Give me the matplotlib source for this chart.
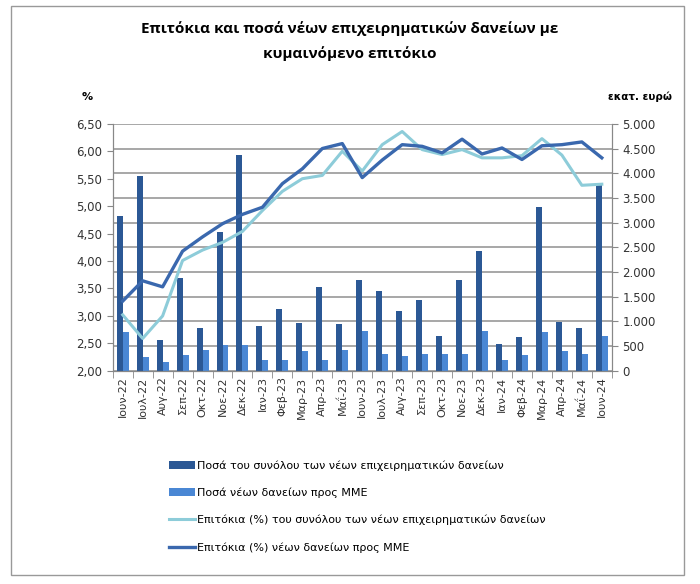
import numpy as np
import matplotlib.pyplot as plt
from matplotlib.patches import Rectangle
from matplotlib.ticker import FuncFormatter, MultipleLocator

# δεδομένα (εκτίμηση από το διάγραμμα)
months = ['Ιουν-22', 'Ιουλ-22', 'Αυγ-22', 'Σεπ-22', 'Οκτ-22', 'Νοε-22', 'Δεκ-22',
          'Ιαν-23', 'Φεβ-23', 'Μαρ-23', 'Απρ-23', 'Μαΐ-23', 'Ιουν-23', 'Ιουλ-23',
          'Αυγ-23', 'Σεπ-23', 'Οκτ-23', 'Νοε-23', 'Δεκ-23', 'Ιαν-24', 'Φεβ-24',
          'Μαρ-24', 'Απρ-24', 'Μαΐ-24', 'Ιουν-24']
amount_total = [3133, 3939, 619, 1875, 867, 2803, 4369, 907, 1257, 968, 1694, 948, 1835,
                1626, 1203, 1425, 706, 1835, 2433, 538, 685, 3326, 988, 874, 3756]
amount_sme = [778, 282, 181, 329, 417, 518, 518, 229, 229, 397, 229, 430, 806,
              349, 296, 336, 349, 349, 806, 228, 316, 786, 396, 336, 706]
rate_total = [3.02, 2.59, 3.00, 4.01, 4.20, 4.34, 4.54, 4.92, 5.27, 5.50, 5.56, 6.00, 5.64,
              6.12, 6.36, 6.03, 5.94, 6.03, 5.88, 5.88, 5.92, 6.23, 5.93, 5.38, 5.40]
rate_sme = [3.27, 3.64, 3.53, 4.18, 4.44, 4.68, 4.85, 4.98, 5.41, 5.68, 6.05, 6.14, 5.52,
            5.84, 6.12, 6.09, 5.97, 6.22, 5.95, 6.06, 5.85, 6.10, 6.12, 6.17, 5.88]
legend_labels = ['Ποσά του συνόλου των νέων επιχειρηματικών δανείων',
                 'Ποσά νέων δανείων προς ΜΜΕ',
                 'Επιτόκια (%) του συνόλου των νέων επιχειρηματικών δανείων',
                 'Επιτόκια (%) νέων δανείων προς ΜΜΕ']

plt.rcParams['font.family'] = ['DejaVu Sans']

C_DARK_BAR = '#2B5895'
C_LIGHT_BAR = '#4A87D4'
C_LIGHT_LINE = '#8DCCD9'
C_DARK_LINE = '#3A68AE'
C_GRID = '#A0A0A0'

fig = plt.figure(figsize=(7.0, 5.84), dpi=100)
ax1 = fig.add_axes([0.161, 0.365, 0.713, 0.423])
ax2 = ax1.twinx()

x = np.arange(len(months))

# ράβδοι στον δεξί άξονα
ax2.set_axisbelow(True)
ax2.yaxis.grid(True, color=C_GRID, linewidth=1.3)
b1 = ax2.bar(x - 0.15, amount_total, width=0.3, color=C_DARK_BAR, zorder=2)
b2 = ax2.bar(x + 0.15, amount_sme, width=0.3, color=C_LIGHT_BAR, zorder=2)
ax2.set_ylim(0, 5000)
ax2.yaxis.set_major_locator(MultipleLocator(500))
ax2.yaxis.set_major_formatter(FuncFormatter(lambda v, p: f'{int(v):,}'.replace(',', '.')))

# γραμμές στον αριστερό άξονα
ax1.set_zorder(ax2.get_zorder() + 1)
ax1.patch.set_visible(False)
l1, = ax1.plot(x, rate_total, color=C_LIGHT_LINE, linewidth=2.2)
l2, = ax1.plot(x, rate_sme, color=C_DARK_LINE, linewidth=2.4)
ax1.set_ylim(2.0, 6.5)
ax1.yaxis.set_major_locator(MultipleLocator(0.5))
ax1.yaxis.set_major_formatter(FuncFormatter(lambda v, p: f'{v:.2f}'.replace('.', ',')))
ax1.set_xlim(-0.5, len(months) - 0.5)
ax1.set_xticks(x)
ax1.set_xticklabels(months, rotation=90, fontsize=8, color='#333333')
ax1.set_xticks(np.arange(-0.5, len(months)), minor=True)
ax1.tick_params(axis='x', which='major', length=0, pad=4)
ax1.tick_params(axis='x', which='minor', length=5, color='#888888')

for ax in (ax1, ax2):
    ax.spines['top'].set_visible(False)
    for s in ('left', 'right', 'bottom'):
        ax.spines[s].set_color('#888888')
ax1.tick_params(axis='y', labelsize=8.5, length=4, color='#888888', labelcolor='#333333')
ax2.tick_params(axis='y', labelsize=8.5, length=4, color='#888888', labelcolor='#333333')

# τίτλοι και ετικέτες
fig.text(0.5, 0.963, 'Επιτόκια και ποσά νέων επιχειρηματικών δανείων με\nκυμαινόμενο επιτόκιο',
         ha='center', va='top', fontsize=11, fontweight='bold', family='Open Sans',
         linespacing=1.8)
fig.text(0.117, 0.834, '%', ha='left', va='center', fontsize=8, fontweight='bold')
fig.text(0.96, 0.834, 'εκατ. ευρώ', ha='right', va='center', fontsize=7.5, fontweight='bold')

fig.legend([b1, b2, l1, l2], legend_labels,
           loc='upper left', bbox_to_anchor=(0.235, 0.219), frameon=False,
           fontsize=8, handlelength=2.3, handletextpad=0.2, labelspacing=1.5,
           borderaxespad=0)

# πλαίσιο γραφήματος
fig.patches.append(Rectangle((0.016, 0.016), 0.961, 0.974, transform=fig.transFigure,
                             fill=False, edgecolor='#999999', linewidth=1))

fig.savefig('out.png', dpi=100)
